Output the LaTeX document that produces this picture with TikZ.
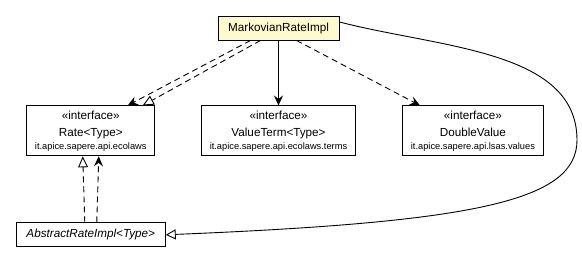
\documentclass[tikz,border=0pt]{standalone}
\usepackage{fontspec}
\setmainfont{Liberation Sans}
\usetikzlibrary{arrows.meta,positioning,calc}

\definecolor{implfill}{HTML}{FFFACD}
\newcommand{\pkgname}[1]{{\fontsize{9.3}{11}\selectfont #1}}

\begin{document}
\begin{tikzpicture}[x=1pt,y=-1pt]

\tikzset{every node/.style = {font=\fontsize{11.7}{14}\selectfont, line width=0.9pt}}
\tikzset{every edge/.append style = {line width=0.9pt}}
\tikzstyle{iface} = [rectangle, draw, align=center, minimum height=50pt, inner xsep=8pt]
\tikzstyle{cls} = [rectangle, draw, minimum height=24pt, inner xsep=8pt]
\tikzstyle{realize} = [dash pattern=on 6pt off 4pt, -{Triangle[open,length=11pt,width=10pt]}]
\tikzstyle{depend} = [dash pattern=on 6pt off 4pt, -{Stealth[length=10pt,width=9pt,inset=3.5pt]}]
\tikzstyle{assoc} = [-{Stealth[length=10pt,width=9pt,inset=3.5pt]}]
\tikzstyle{extend} = [-{Triangle[open,length=10pt,width=10pt]}]

\useasboundingbox (0,0) rectangle (582,264);

\node[cls, fill=implfill, minimum width=121pt] (markov) at (278.5,28) {MarkovianRateImpl};
\node[iface, minimum width=154pt] (valueterm) [below=65pt of markov]
  {«interface»\\[3pt]ValueTerm<Type>\\[-1pt]\pkgname{it.apice.sapere.api.ecolaws.terms}};
\node[iface, minimum width=127pt] (rate) [left=46pt of valueterm]
  {«interface»\\[3pt]Rate<Type>\\[-1pt]\pkgname{it.apice.sapere.api.ecolaws}};
\node[iface, minimum width=141pt] (double) [right=46pt of valueterm]
  {«interface»\\[3pt]DoubleValue\\[-1pt]\pkgname{it.apice.sapere.api.lsas.values}};
\node[cls, minimum width=149pt] (abstract) [below=66pt of rate] {\itshape AbstractRateImpl<Type>};

\coordinate (bend) at (577,140);

\draw ($(markov.south) - (18pt,0)$)   edge[realize] ($(rate.north) + (52pt,0)$);
\draw ($(markov.south) - (28pt,0)$)   edge[depend]  ($(rate.north) + (37pt,0)$);
\draw (markov.south)                  edge[assoc, line width=1.1pt] (valueterm.north);
\draw ($(markov.south) + (18pt,0)$)   edge[depend]  ($(double.north) - (53pt,0)$);
\draw ($(abstract.north) - (6pt,0)$)  edge[realize] ($(rate.south) - (8pt,0)$);
\draw ($(abstract.north) + (6pt,0)$)  edge[depend]  ($(rate.south) + (8pt,0)$);

% superclass link swings round the right side
\draw[extend, line width=0.9pt] ($(markov.east) + (0,6pt)$) .. controls (440,48) and (577,50) .. (bend)
  .. controls (577,200) and (480,222) .. (abstract.east);

\end{tikzpicture}
\end{document}
